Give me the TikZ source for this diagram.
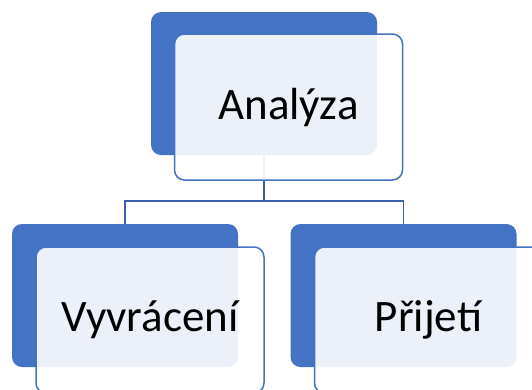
\documentclass[tikz,border=0pt]{standalone}
\usepackage{fontspec}
\setmainfont{Carlito}
\definecolor{accblue}{HTML}{4472C4}
\begin{document}
\begin{tikzpicture}[x=1pt,y=-1pt,
  backbox/.style={rectangle,rounded corners=10pt,fill=accblue,draw=none,
    minimum width=226pt,minimum height=143pt,inner sep=0pt},
  frontbox/.style={rectangle,rounded corners=10pt,fill=white,fill opacity=0.9,
    text opacity=1,draw=accblue,draw opacity=1,line width=1.5pt,
    minimum width=228pt,minimum height=146pt,inner sep=0pt,
    font=\fontsize{45}{50}\selectfont},
  conn/.style={draw=accblue!85!black,line width=1.8pt}]
\useasboundingbox (0,0) rectangle (532,389);
\clip (0,0) rectangle (532,389);
\node[backbox] (tb) at (264,83.5) {};
\node[backbox] (lb) at (125,295.5) {};
\node[backbox] (rb) at (403.5,295.5) {};
\coordinate (j) at (264,201);
\draw[conn] (tb.south) -- (j) -| (lb.north);
\draw[conn] (j) -| (rb.north);
\node[frontbox] (tf) at (288.5,107) {Analýza};
\node[frontbox] (lf) at (150,320) {Vyvrácení};
\node[frontbox] (rf) at (428.5,320) {Přijetí};
\end{tikzpicture}
\end{document}
